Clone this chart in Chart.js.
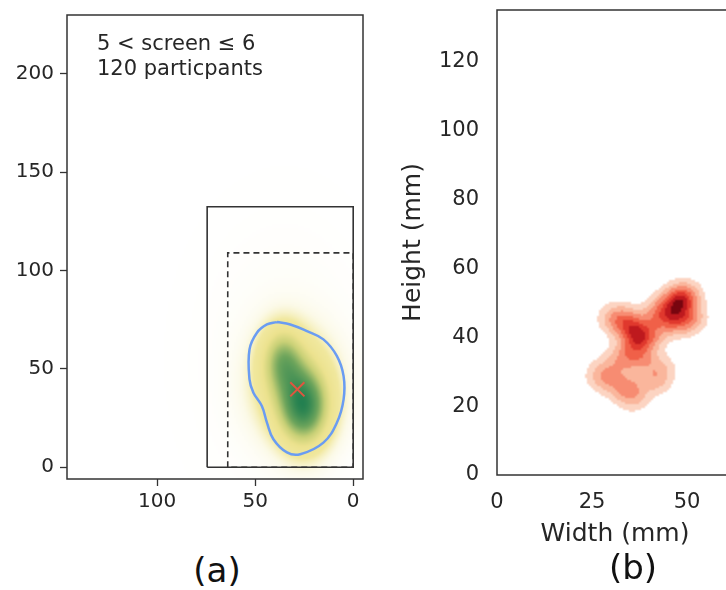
<!DOCTYPE html>
<html>
<head>
<meta charset="utf-8">
<script src="https://cdn.jsdelivr.net/npm/chart.js@4.4.1/dist/chart.umd.min.js"></script>
<style>
  html, body { margin: 0; padding: 0; background: #fff; overflow: hidden; width: 726px; height: 590px; position: relative; }
  canvas { position: absolute; top: 0; }
  #chartA { left: 0; }
  #chartB { left: 390px; }
  .lab { position: absolute; font-family: 'DejaVu Sans'; font-size: 34px; color: #111; transform: translate(-50%, -50%); }
</style>
</head>
<body>
<canvas id="chartA" width="380" height="530"></canvas>
<canvas id="chartB" width="350" height="560"></canvas>
<div class="lab" style="left:217px; top:570px">(a)</div>
<div class="lab" style="left:633px; top:567px">(b)</div>
<script>
// panel (a): screen outlines (mm)
const screenSolid = [74.5, 132.5]   // width, height
const screenDashed = [64, 109]
// contour of the touch density (mm)
const contourX = [38.9, 32.1, 23.6, 15.2, 8.3, 4.9, 4.9, 8.3, 15.2, 27.0, 33.8, 40.7, 44.0, 46.6, 50.9, 52.9, 52.9, 49.1, 44.0]
const contourY = [73.8, 72.6, 69.2, 65.0, 56.5, 46.3, 34.5, 22.7, 12.5, 6.6, 7.5, 14.2, 22.7, 31.1, 37.9, 44.7, 59.9, 68.4, 72.6]
const meanX = [28.5]
const meanY = [39.6]
// density blobs
const greenX = [25, 36, 30, 35]
const greenY = [30, 55, 42, 55]
const greenSX = [8.5, 7, 13, 25]
const greenSY = [13, 11, 17, 40]
const greenW = [1.0, 0.6, 0.45, 0.03]
const xTicksA = [0, 50, 100]
const yTicksA = [0, 50, 100, 150, 200]

// panel (b): touch points (mm) and their weights
const redX = [48, 49.5, 46.5, 50.5, 44.5, 42, 40.5, 36, 37.5, 34, 31, 35, 38.5, 31.5, 27.5, 30, 34.2, 41.5, 43, 36]
const redY = [50.5, 52, 45, 45.5, 48.5, 46, 41, 42, 39, 44.5, 45.5, 35, 33.5, 32.5, 29, 27.5, 25.2, 27.5, 31, 22.5]
const redW = [1.0, 0.6, 0.8, 0.7, 0.6, 0.5, 0.5, 0.8, 0.8, 0.6, 0.5, 0.6, 0.4, 0.35, 0.4, 0.35, 0.6, 0.45, 0.3, 0.35]
const redBandwidth = 2.8
const xTicksB = [0, 25, 50]
const yTicksB = [0, 20, 40, 60, 80, 100, 120]

const FONT = 'DejaVu Sans'
const INK = '#262626'
const SPINE = '#333'

const pts = (xs, ys) => xs.map((v, i) => ({ x: v, y: ys[i] }))
const rect = ([w, h]) => [{ x: w, y: 0 }, { x: w, y: h }, { x: 0, y: h }, { x: 0, y: 0 }, { x: w, y: 0 }]
const fixTicks = (arr) => (scale) => { scale.ticks = arr.map(v => ({ value: v })) }
const noPad = (size, key) => (s) => {
  s[key] = size
  s.paddingTop = 0; s.paddingBottom = 0; s.paddingLeft = 0; s.paddingRight = 0
}

const lerp = (a, b, t) => a + (b - a) * t

const greenStops = [
  [0.0, [255, 255, 255]],
  [0.05, [252, 250, 232]],
  [0.14, [241, 232, 158]],
  [0.30, [236, 226, 142]],
  [0.48, [200, 208, 118]],
  [0.70, [110, 165, 92]],
  [1.0, [35, 128, 80]]
]
const greenColor = (t) => {
  for (let k = 1; k < greenStops.length; k++) {
    if (t <= greenStops[k][0]) {
      const [t0, c0] = greenStops[k - 1]
      const [t1, c1] = greenStops[k]
      const f = (t - t0) / (t1 - t0)
      return [lerp(c0[0], c1[0], f), lerp(c0[1], c1[1], f), lerp(c0[2], c1[2], f)]
    }
  }
  return greenStops[greenStops.length - 1][1]
}

// filled kde levels, like seaborn's Reds
const redLevels = [
  [0.08, [252, 212, 194]],
  [0.2, [250, 182, 156]],
  [0.34, [247, 140, 114]],
  [0.5, [240, 96, 72]],
  [0.66, [224, 56, 45]],
  [0.8, [190, 25, 30]],
  [0.93, [120, 5, 15]]
]
const redColor = (t) => {
  let c = [255, 255, 255]
  redLevels.forEach(([lv, col]) => { if (t >= lv) c = col })
  return c
}

// paints a density image into the chart area through the chart's own scales
const densityPlugin = (density, colorFn, step) => {
  let cache = null
  return {
    id: 'density',
    beforeDatasetsDraw(chart) {
      const { ctx, chartArea: a, scales: { x, y } } = chart
      if (!cache) {
        const w = Math.ceil((a.right - a.left) / step)
        const h = Math.ceil((a.bottom - a.top) / step)
        const vals = new Float32Array(w * h)
        let max = 0
        for (let j = 0; j < h; j++) {
          const yv = y.getValueForPixel(a.top + (j + 0.5) * step)
          for (let i = 0; i < w; i++) {
            const xv = x.getValueForPixel(a.left + (i + 0.5) * step)
            const d = density(xv, yv)
            vals[j * w + i] = d
            if (d > max) max = d
          }
        }
        const off = document.createElement('canvas')
        off.width = w
        off.height = h
        const octx = off.getContext('2d')
        const img = octx.createImageData(w, h)
        for (let k = 0; k < w * h; k++) {
          const c = colorFn(vals[k] / max)
          img.data[k * 4] = c[0]
          img.data[k * 4 + 1] = c[1]
          img.data[k * 4 + 2] = c[2]
          img.data[k * 4 + 3] = 255
        }
        octx.putImageData(img, 0, 0)
        cache = { off, w, h }
      }
      ctx.save()
      ctx.beginPath()
      ctx.rect(a.left, a.top, a.right - a.left, a.bottom - a.top)
      ctx.clip()
      ctx.imageSmoothingEnabled = true
      ctx.drawImage(cache.off, a.left, a.top, cache.w * step, cache.h * step)
      ctx.restore()
    }
  }
}

const framePlugin = {
  id: 'frame',
  afterDatasetsDraw(chart) {
    const { ctx, chartArea: a } = chart
    ctx.save()
    ctx.strokeStyle = SPINE
    ctx.lineWidth = 1.5
    ctx.strokeRect(a.left, a.top, a.right - a.left, a.bottom - a.top)
    ctx.restore()
  }
}

const notePlugin = (lines) => ({
  id: 'note',
  afterDraw(chart) {
    const { ctx, chartArea: a } = chart
    ctx.save()
    ctx.fillStyle = INK
    ctx.font = '21px ' + FONT
    ctx.textBaseline = 'alphabetic'
    lines.forEach((t, i) => ctx.fillText(t, a.left + 30, a.top + 35 + i * 25))
    ctx.restore()
  }
})

const gauss = (xs, ys, sx, sy, w) => (x, y) => {
  let d = 0
  xs.forEach((cx, k) => {
    const dx = (x - cx) / sx[k], dy = (y - ys[k]) / sy[k]
    d += w[k] * Math.exp(-0.5 * (dx * dx + dy * dy))
  })
  return d
}

const greenDensity = gauss(greenX, greenY, greenSX, greenSY, greenW)
const redDensity = gauss(redX, redY, redX.map(() => redBandwidth), redX.map(() => redBandwidth), redW)

Chart.defaults.font.family = FONT
Chart.defaults.animation = false

new Chart(document.getElementById('chartA'), {
  type: 'scatter',
  data: {
    datasets: [
      { data: rect(screenSolid), showLine: true, borderColor: SPINE, borderWidth: 1.6, pointRadius: 0 },
      { data: rect(screenDashed), showLine: true, borderColor: SPINE, borderWidth: 1.6, borderDash: [6, 4], pointRadius: 0 },
      { data: pts(contourX.concat(contourX[0]), contourY.concat(contourY[0])), showLine: true, tension: 0.4, borderColor: '#6a9cf2', borderWidth: 2.5, pointRadius: 0 },
      { data: pts(meanX, meanY), pointStyle: 'crossRot', pointRadius: 10, borderColor: '#e0553f', borderWidth: 2 }
    ]
  },
  options: {
    responsive: false,
    layout: { padding: { top: 15, right: 17, left: 0, bottom: 0 } },
    plugins: { legend: { display: false }, tooltip: { enabled: false } },
    scales: {
      x: {
        type: 'linear', reverse: true, min: -5, max: 146,
        afterBuildTicks: fixTicks(xTicksA),
        afterFit: noPad(51, 'height'),
        grid: { drawOnChartArea: false, tickLength: 7, color: SPINE, tickWidth: 1.3 },
        border: { display: false },
        ticks: { color: INK, font: { size: 20 }, padding: 4, maxRotation: 0 }
      },
      y: {
        type: 'linear', min: -6, max: 230,
        afterBuildTicks: fixTicks(yTicksA),
        afterFit: noPad(67, 'width'),
        grid: { drawOnChartArea: false, tickLength: 7, color: SPINE, tickWidth: 1.3 },
        border: { display: false },
        ticks: { color: INK, font: { size: 20 }, padding: 6 }
      }
    }
  },
  plugins: [densityPlugin(greenDensity, greenColor, 2), framePlugin, notePlugin(['5 < screen ≤ 6', '120 particpants'])]
})

new Chart(document.getElementById('chartB'), {
  type: 'scatter',
  data: { datasets: [] },
  options: {
    responsive: false,
    layout: { padding: { top: 10, right: 7, left: 0, bottom: 0 } },
    plugins: { legend: { display: false }, tooltip: { enabled: false } },
    scales: {
      x: {
        type: 'linear', min: 0, max: 62.1,
        afterBuildTicks: fixTicks(xTicksB),
        afterFit: noPad(85, 'height'),
        grid: { display: false },
        border: { display: false },
        ticks: { color: INK, font: { size: 21 }, padding: 7, maxRotation: 0 },
        title: { display: true, text: 'Width (mm)', color: INK, font: { size: 25 }, padding: { top: 4, bottom: 11 } }
      },
      y: {
        type: 'linear', min: 0, max: 135,
        afterBuildTicks: fixTicks(yTicksB),
        afterFit: noPad(107, 'width'),
        grid: { display: false },
        border: { display: false },
        ticks: { color: INK, font: { size: 21 }, padding: 10 },
        title: { display: true, text: 'Height (mm)', color: INK, font: { size: 25 }, padding: { top: 8, bottom: 4 } }
      }
    }
  },
  plugins: [densityPlugin(redDensity, redColor, 2), framePlugin]
})
</script>
</body>
</html>
